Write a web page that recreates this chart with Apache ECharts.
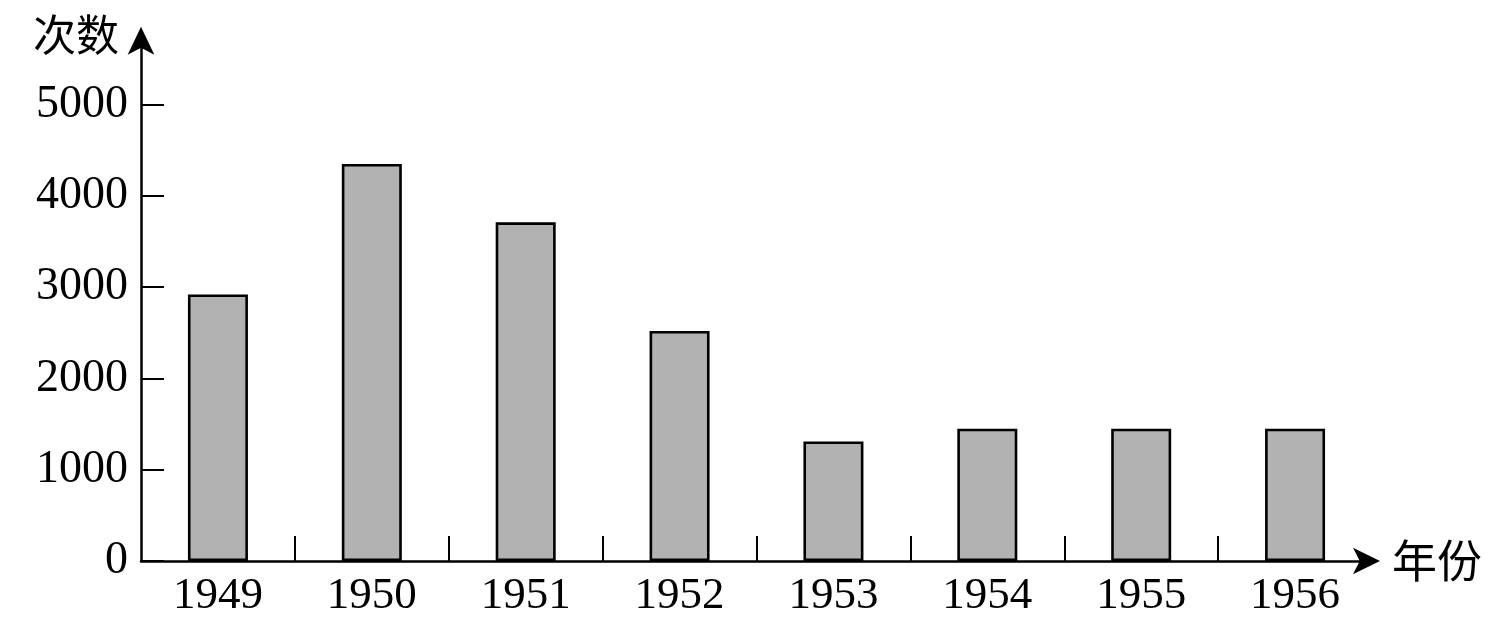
<!DOCTYPE html>
<html>
<head>
<meta charset="utf-8">
<script src="https://cdn.jsdelivr.net/npm/echarts@6/dist/echarts.min.js"></script>
<style>html,body{margin:0;padding:0;background:#fff;}#c{width:1501px;height:640px;}</style>
</head>
<body>
<div id="c"></div>
<script>
const years = ['1949', '1950', '1951', '1952', '1953', '1954', '1955', '1956'];
const counts = [2920, 4350, 3710, 2520, 1310, 1450, 1450, 1450];
const yTicks = [0, 1000, 2000, 3000, 4000, 5000];
const xName = '年份';
const yName = '次数';

const boundaries = years.concat(['']).map(() => '');
const serif = '"Liberation Serif", "Times New Roman", serif';
const cjk = '"Noto Sans CJK SC", sans-serif';

const chart = echarts.init(document.getElementById('c'), null, {renderer: 'canvas'});
chart.setOption({
  animation: false,
  backgroundColor: '#fff',
  grid: {left: 141, right: 129, top: 40.7, bottom: 79},
  xAxis: [{
    type: 'category',
    data: years,
    position: 'bottom',
    boundaryGap: true,
    name: xName,
    nameLocation: 'end',
    nameGap: 20,
    nameTextStyle: {fontFamily: cjk, fontSize: 45, color: '#000', align: 'left', verticalAlign: 'middle', padding: [0, 0, 30, 0]},
    axisLine: {show: true, symbol: ['none', 'arrow'], symbolSize: [20, 27], symbolOffset: [0, 8], lineStyle: {color: '#000', width: 2.5}},
    axisTick: {show: false},
    axisLabel: {fontFamily: serif, fontSize: 45, color: '#000', margin: 13},
    splitLine: {show: false}
  }, {
    type: 'category',
    data: boundaries,
    position: 'bottom',
    boundaryGap: false,
    axisLine: {show: false},
    axisTick: {show: true, inside: true, length: 25, interval: (i) => i > 0 && i < years.length, lineStyle: {color: '#000', width: 2}},
    axisLabel: {show: false},
    splitLine: {show: false}
  }],
  yAxis: {
    type: 'value',
    min: 0,
    max: 5700,
    interval: 1000,
    name: yName,
    nameLocation: 'end',
    nameGap: 6,
    nameTextStyle: {fontFamily: cjk, fontSize: 43, color: '#000', align: 'right', verticalAlign: 'middle', padding: [0, 22, 0, 0]},
    axisLine: {show: true, symbol: ['none', 'arrow'], symbolSize: [20, 28], symbolOffset: [0, 14], lineStyle: {color: '#000', width: 2.5}},
    axisTick: {show: true, inside: true, length: 23, customValues: yTicks, lineStyle: {color: '#000', width: 2}},
    axisLabel: {fontFamily: serif, fontSize: 46, color: '#000', margin: 13, customValues: yTicks, formatter: (v) => String(v)},
    splitLine: {show: false}
  },
  series: [{
    type: 'bar',
    data: counts,
    barWidth: 60,
    itemStyle: {color: '#b2b2b2', borderColor: '#000', borderWidth: 2.6}
  }]
});
</script>
</body>
</html>
